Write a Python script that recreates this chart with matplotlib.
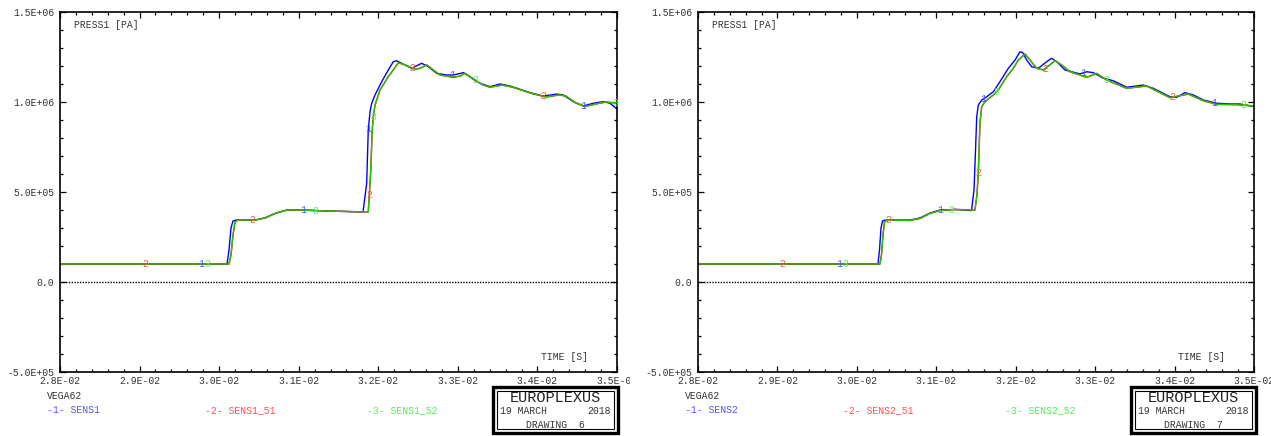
import numpy as np
import matplotlib
matplotlib.use("Agg")
import matplotlib.pyplot as plt
from matplotlib.ticker import MultipleLocator, FuncFormatter
from matplotlib.transforms import Bbox, TransformedBbox
from matplotlib.patches import Rectangle

# ---------------- data ----------------
# left drawing (DRAWING 6): SENS1
t_sens1 = [0.02800, 0.030099, 0.030124, 0.030149, 0.030174, 0.030212, 0.030451, 0.030576,
           0.030715, 0.030853, 0.031016, 0.031393, 0.031808, 0.031854, 0.031874, 0.031896,
           0.031917, 0.031959, 0.032043, 0.032126, 0.032189, 0.032231, 0.032294, 0.032420,
           0.032503, 0.032546, 0.032629, 0.032734, 0.032860, 0.032943, 0.033069, 0.033153,
           0.033278, 0.033404, 0.033530, 0.033655, 0.033907, 0.034074, 0.034242, 0.034325,
           0.034451, 0.034577, 0.034702, 0.034828, 0.034912, 0.035000]
p_sens1 = [1.0e5, 1.0e5, 1.78e5, 3.0e5, 3.39e5, 3.44e5, 3.44e5, 3.56e5,
           3.83e5, 4.0e5, 4.0e5, 3.94e5, 3.89e5, 5.48e5, 8.44e5, 9.46e5,
           9.93e5, 1.039e6, 1.113e6, 1.178e6, 1.224e6, 1.229e6, 1.215e6, 1.187e6,
           1.206e6, 1.215e6, 1.196e6, 1.159e6, 1.150e6, 1.150e6, 1.163e6, 1.141e6,
           1.104e6, 1.085e6, 1.100e6, 1.089e6, 1.052e6, 1.033e6, 1.044e6, 1.039e6,
           1.002e6, 0.978e6, 0.993e6, 1.002e6, 0.993e6, 0.961e6]

t_sens1_52 = [0.02800, 0.030124, 0.030149, 0.030174, 0.030199, 0.030237, 0.030451, 0.030576,
              0.030715, 0.030853, 0.031016, 0.031393, 0.031874, 0.031904, 0.031924, 0.031937,
              0.031959, 0.032022, 0.032126, 0.032189, 0.032252, 0.032336, 0.032462, 0.032524,
              0.032609, 0.032692, 0.032776, 0.032943, 0.033027, 0.033090, 0.033194, 0.033320,
              0.033404, 0.033555, 0.033681, 0.033932, 0.034108, 0.034271, 0.034359, 0.034485,
              0.034598, 0.034736, 0.034862, 0.035000]
p_sens1_52 = [1.0e5, 1.0e5, 1.5e5, 2.61e5, 3.33e5, 3.44e5, 3.44e5, 3.56e5,
              3.83e5, 4.0e5, 4.0e5, 3.94e5, 3.89e5, 6.06e5, 8.44e5, 9.18e5,
              9.83e5, 1.067e6, 1.141e6, 1.178e6, 1.218e6, 1.206e6, 1.182e6, 1.187e6,
              1.206e6, 1.178e6, 1.150e6, 1.137e6, 1.144e6, 1.159e6, 1.126e6, 1.094e6,
              1.082e6, 1.094e6, 1.083e6, 1.047e6, 1.028e6, 1.039e6, 1.033e6, 0.994e6,
              0.975e6, 0.989e6, 1.000e6, 0.994e6]

t_sens1_51 = list(t_sens1_52)
p_sens1_51 = list(p_sens1_52)

# right drawing (DRAWING 7): SENS2
t_sens2 = [0.02800, 0.030266, 0.030285, 0.030304, 0.030323, 0.030354, 0.030669, 0.030795,
           0.030921, 0.031047, 0.031236, 0.031443, 0.031475, 0.031494, 0.031509, 0.031529,
           0.031572, 0.031635, 0.031718, 0.031802, 0.031907, 0.031991, 0.032054, 0.032088,
           0.032138, 0.032201, 0.032284, 0.032390, 0.032453, 0.032516, 0.032620, 0.032809,
           0.032894, 0.032977, 0.033103, 0.033228, 0.033397, 0.033606, 0.033732, 0.033942,
           0.034027, 0.034131, 0.034236, 0.034362, 0.034530, 0.034698, 0.034824, 0.035000]
p_sens2 = [1.0e5, 1.0e5, 1.78e5, 3.0e5, 3.39e5, 3.44e5, 3.44e5, 3.56e5,
           3.83e5, 4.0e5, 4.03e5, 3.97e5, 5.11e5, 7.33e5, 9.18e5, 9.83e5,
           1.011e6, 1.029e6, 1.057e6, 1.113e6, 1.187e6, 1.233e6, 1.279e6, 1.274e6,
           1.233e6, 1.196e6, 1.187e6, 1.224e6, 1.243e6, 1.224e6, 1.178e6, 1.156e6,
           1.168e6, 1.163e6, 1.132e6, 1.118e6, 1.082e6, 1.094e6, 1.076e6, 1.029e6,
           1.026e6, 1.052e6, 1.039e6, 1.011e6, 0.993e6, 0.989e6, 0.989e6, 0.974e6]

t_sens2_52 = [0.02800, 0.030291, 0.030310, 0.030329, 0.030348, 0.030379, 0.030669, 0.030795,
              0.030921, 0.031047, 0.031236, 0.031487, 0.031512, 0.031529, 0.031550, 0.031572,
              0.031613, 0.031718, 0.031781, 0.031887, 0.031970, 0.032033, 0.032117, 0.032180,
              0.032264, 0.032347, 0.032495, 0.032579, 0.032683, 0.032894, 0.033020, 0.033145,
              0.033397, 0.033649, 0.033942, 0.034173, 0.034362, 0.034530, 0.034782, 0.035000]
p_sens2_52 = [1.0e5, 1.0e5, 1.5e5, 2.61e5, 3.33e5, 3.44e5, 3.42e5, 3.53e5,
              3.81e5, 3.97e5, 4.03e5, 4.0e5, 4.83e5, 6.06e5, 8.83e5, 9.74e5,
              1.002e6, 1.039e6, 1.067e6, 1.141e6, 1.187e6, 1.233e6, 1.267e6, 1.233e6,
              1.187e6, 1.178e6, 1.229e6, 1.206e6, 1.168e6, 1.137e6, 1.159e6, 1.122e6,
              1.076e6, 1.089e6, 1.024e6, 1.044e6, 1.007e6, 0.987e6, 0.985e6, 0.978e6]

t_sens2_51 = list(t_sens2_52)
p_sens2_51 = list(p_sens2_52)

# curve-number label positions (time values)
lab1_sens1 = [0.029772, 0.031054, 0.031875, 0.032926, 0.034573]
lab2_sens1 = [0.029068, 0.030413, 0.031887, 0.032433, 0.034070]
lab3_sens1 = [0.029847, 0.031205, 0.031937, 0.033216, 0.034976]
lab1_sens2 = [0.029775, 0.031047, 0.031592, 0.032851, 0.034496]
lab2_sens2 = [0.029058, 0.030396, 0.031529, 0.032369, 0.033971]
lab3_sens2 = [0.029851, 0.031194, 0.031761, 0.033137, 0.034865]

x_ticks = [0.028, 0.029, 0.030, 0.031, 0.032, 0.033, 0.034, 0.035]
y_ticks = [-5.0e5, 0.0, 5.0e5, 1.0e6, 1.5e6]

names_left = ["SENS1", "SENS1_51", "SENS1_52"]
names_right = ["SENS2", "SENS2_51", "SENS2_52"]

# ---------------- style ----------------
W, H = 1271, 436
FONT = "Liberation Mono"
LINE_COLORS = ["#0000ff", "#ff0000", "#20c800"]
TEXT_COLORS = ["#5050ff", "#ff5050", "#50f050"]
TXT = "#333333"

fig = plt.figure(figsize=(W / 100, H / 100), dpi=100)


def fx(px):
    return px / W


def fy(py):
    return 1 - py / H


def fmt(v, pos=None):
    if abs(v) < 1e-12:
        return "0.0"
    return f"{v:.1E}"


def panel(x0, x1, series, labels, names, drawing, clip_right=None):
    ax = fig.add_axes([fx(x0), fy(372), fx(x1 - x0), (372 - 12) / H])
    ax.set_xlim(0.028, 0.035)
    ax.set_ylim(-5e5, 1.5e6)
    ax.axhline(0.0, color="black", lw=1.0, ls=(0, (1, 1)), zorder=1)
    for (t, p), c in zip(series, LINE_COLORS):
        ax.plot(t, p, color=c, lw=1.0, zorder=2)
    for (t, p), labs, c, num in zip(series, labels, TEXT_COLORS, ["1", "2", "3"]):
        for lt in labs:
            ax.text(lt, np.interp(lt, t, p), num, color=c, fontsize=7,
                    family=FONT, ha="center", va="center", zorder=3)
    ax.set_xticks(x_ticks)
    ax.set_yticks(y_ticks)
    ax.xaxis.set_minor_locator(MultipleLocator(0.0002))
    ax.yaxis.set_minor_locator(MultipleLocator(1e5))
    ax.xaxis.set_major_formatter(FuncFormatter(fmt))
    ax.yaxis.set_major_formatter(FuncFormatter(fmt))
    ax.tick_params(which="both", direction="in", top=True, right=True,
                   colors="black", labelcolor=TXT, labelsize=7, width=0.9)
    ax.tick_params(which="major", length=4)
    ax.tick_params(which="minor", length=2.2)
    ax.tick_params(axis="x", pad=3)
    ax.tick_params(axis="y", pad=4)
    for lab in ax.get_xticklabels() + ax.get_yticklabels():
        lab.set_family(FONT)
    for s in ax.spines.values():
        s.set_linewidth(1.2)
    if clip_right is not None:
        cb = TransformedBbox(Bbox([[0, 0], [fx(clip_right), 1]]), fig.transFigure)
        for lab in ax.get_xticklabels():
            lab.set_clip_box(cb)
            lab.set_clip_on(True)
    ax.text(0.025, 0.965, "PRESS1 [PA]", transform=ax.transAxes, fontsize=7,
            family=FONT, color=TXT, ha="left", va="center")
    ax.text(0.905, 0.042, "TIME [S]", transform=ax.transAxes, fontsize=7,
            family=FONT, color=TXT, ha="center", va="center")

    off = x0 - 60
    fig.text(fx(47 + off), fy(396), "VEGA62", fontsize=7, family=FONT, color=TXT,
             ha="left", va="center")
    for xs, c, i, nm in zip([47, 205, 367], TEXT_COLORS, [1, 2, 3], names):
        fig.text(fx(xs + off), fy(410), f"-{i}- {nm}", fontsize=7, family=FONT,
                 color=c, ha="left", va="center")
    bx0, bx1, by0, by1 = 493 + off, 618 + off, 387, 433
    fig.add_artist(Rectangle((fx(bx0), fy(by1)), fx(bx1 - bx0), (by1 - by0) / H,
                             transform=fig.transFigure, fill=False, lw=2.4,
                             edgecolor="black"))
    fig.add_artist(Rectangle((fx(bx0 + 4), fy(by1 - 4)), fx(bx1 - bx0 - 8),
                             (by1 - by0 - 8) / H, transform=fig.transFigure,
                             fill=False, lw=0.8, edgecolor="black"))
    cx = (bx0 + bx1) / 2
    fig.text(fx(cx), fy(398), "EUROPLEXUS", fontsize=11, family=FONT,
             color="#222222", ha="center", va="center")
    fig.text(fx(bx0 + 7), fy(411), "19 MARCH", fontsize=7, family=FONT,
             color=TXT, ha="left", va="center")
    fig.text(fx(bx1 - 7), fy(411), "2018", fontsize=7, family=FONT,
             color=TXT, ha="right", va="center")
    fig.text(fx(cx), fy(425), f"DRAWING  {drawing}", fontsize=7, family=FONT,
             color=TXT, ha="center", va="center")
    return ax


panel(60, 617,
      [(t_sens1, p_sens1), (t_sens1_51, p_sens1_51), (t_sens1_52, p_sens1_52)],
      [lab1_sens1, lab2_sens1, lab3_sens1], names_left, 6, clip_right=630)
panel(698, 1254,
      [(t_sens2, p_sens2), (t_sens2_51, p_sens2_51), (t_sens2_52, p_sens2_52)],
      [lab1_sens2, lab2_sens2, lab3_sens2], names_right, 7)

fig.savefig("out.png", dpi=100)
